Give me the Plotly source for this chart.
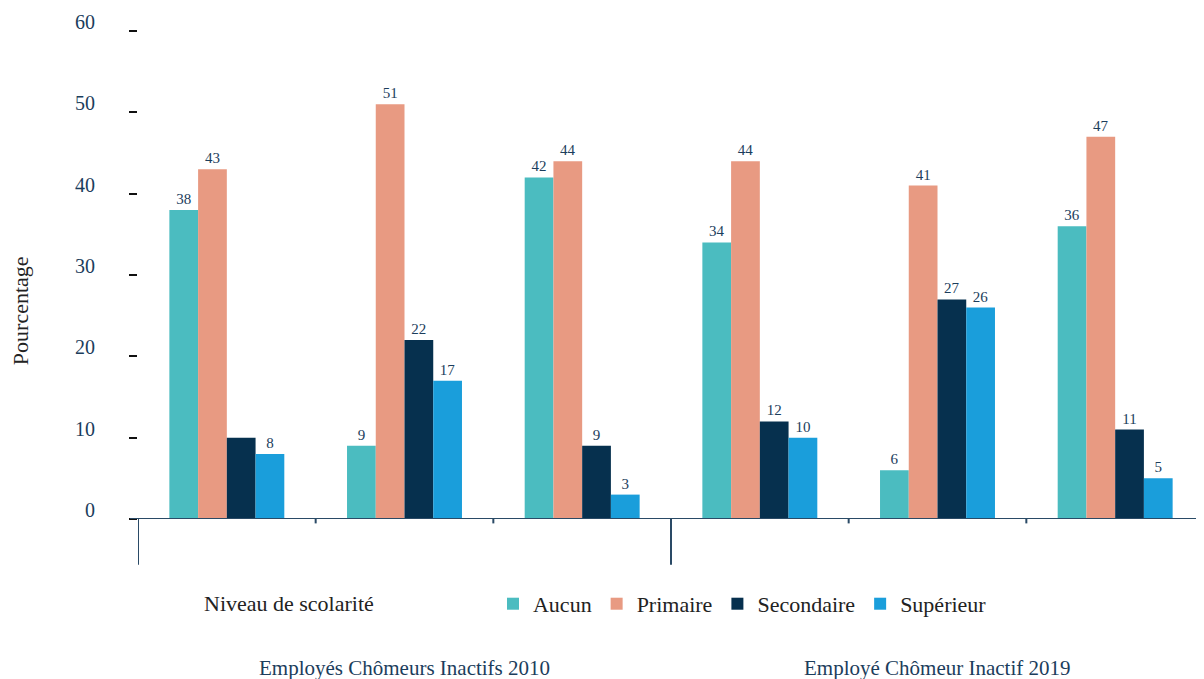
import plotly.graph_objects as go

categories = ["Employés 2010", "Chômeurs 2010", "Inactifs 2010",
              "Employé 2019", "Chômeur 2019", "Inactif 2019"]
group_labels = ["Employés Chômeurs Inactifs 2010", "Employé Chômeur Inactif 2019"]
series_names = ["Aucun", "Primaire", "Secondaire", "Supérieur"]
aucun = [38, 9, 42, 34, 6, 36]
primaire = [43, 51, 44, 44, 41, 47]
secondaire = [10, 22, 9, 12, 27, 11]
superieur = [8, 17, 3, 10, 26, 5]
secondaire_labels = ["", "22", "9", "12", "27", "11"]
y_ticks = [0, 10, 20, 30, 40, 50, 60]

colors = ["#4BBCC0", "#E89A82", "#06304E", "#1A9EDB"]
navy = "#1B3D5C"
serif = "Liberation Serif"

values = [aucun, primaire, secondaire, superieur]
labels = [[str(v) for v in aucun], [str(v) for v in primaire],
          secondaire_labels, [str(v) for v in superieur]]

fig = go.Figure()
for name, vals, txt, col in zip(series_names, values, labels, colors):
    fig.add_trace(go.Bar(
        x=categories, y=vals, name=name, marker_color=col,
        marker_line_width=0,
        text=txt, textposition="outside", cliponaxis=False,
        textfont=dict(family=serif, size=15, color=navy),
    ))

shapes = []
# extended x-axis baseline
shapes.append(dict(type="line", xref="paper", yref="y", x0=-0.0075, x1=1, y0=0, y1=0,
                   line=dict(color="#2A4A66", width=2)))
# group dividers
for pos, long in [(-0.5, True), (0.5, False), (1.5, False), (2.5, True), (3.5, False), (4.5, False)]:
    shapes.append(dict(type="line", xref="x", yref="paper", x0=pos, x1=pos,
                       y0=0, y1=-0.094 if long else -0.009,
                       line=dict(color="#2A4A66", width=2)))

annotations = [
    dict(text="Pourcentage", xref="paper", yref="paper", x=-0.1107, y=0.428,
         xanchor="center", yanchor="middle",
         textangle=-90, showarrow=False, font=dict(family=serif, size=22, color="#222222")),
    dict(text="Niveau de scolarité", xref="paper", yref="paper", x=0.06, y=-0.174,
         xanchor="left", yanchor="middle", showarrow=False,
         font=dict(family=serif, size=22, color="#222222")),
]
for lab, pos in zip(group_labels, [1, 4]):
    annotations.append(dict(text=lab, xref="x", yref="paper", x=pos, y=-0.305,
                            xanchor="center", yanchor="middle", showarrow=False,
                            font=dict(family=serif, size=21, color=navy)))

fig.update_layout(
    width=1196, height=671,
    margin=dict(l=130, r=0, t=23, b=160),
    plot_bgcolor="white", paper_bgcolor="white",
    barmode="group", bargap=0.353, bargroupgap=0,
    font=dict(family=serif),
    showlegend=True,
    legend=dict(orientation="h", x=0.333, xanchor="left", y=-0.174, yanchor="middle",
                font=dict(family=serif, size=22, color="#222222"),
                traceorder="normal"),
    shapes=shapes, annotations=annotations,
)
fig.update_xaxes(showticklabels=False, ticks="", showgrid=False, showline=False,
                 zeroline=False, range=[-0.5, 5.5])
fig.update_yaxes(range=[0, 60], tickvals=y_ticks, showgrid=False, zeroline=False,
                 showline=False, ticks="outside", ticklen=8, tickwidth=2, tickcolor="#111111",
                 ticklabelstandoff=30, ticklabelshift=-9,
                 tickfont=dict(family=serif, size=20, color=navy))

fig.write_html("out.html")
